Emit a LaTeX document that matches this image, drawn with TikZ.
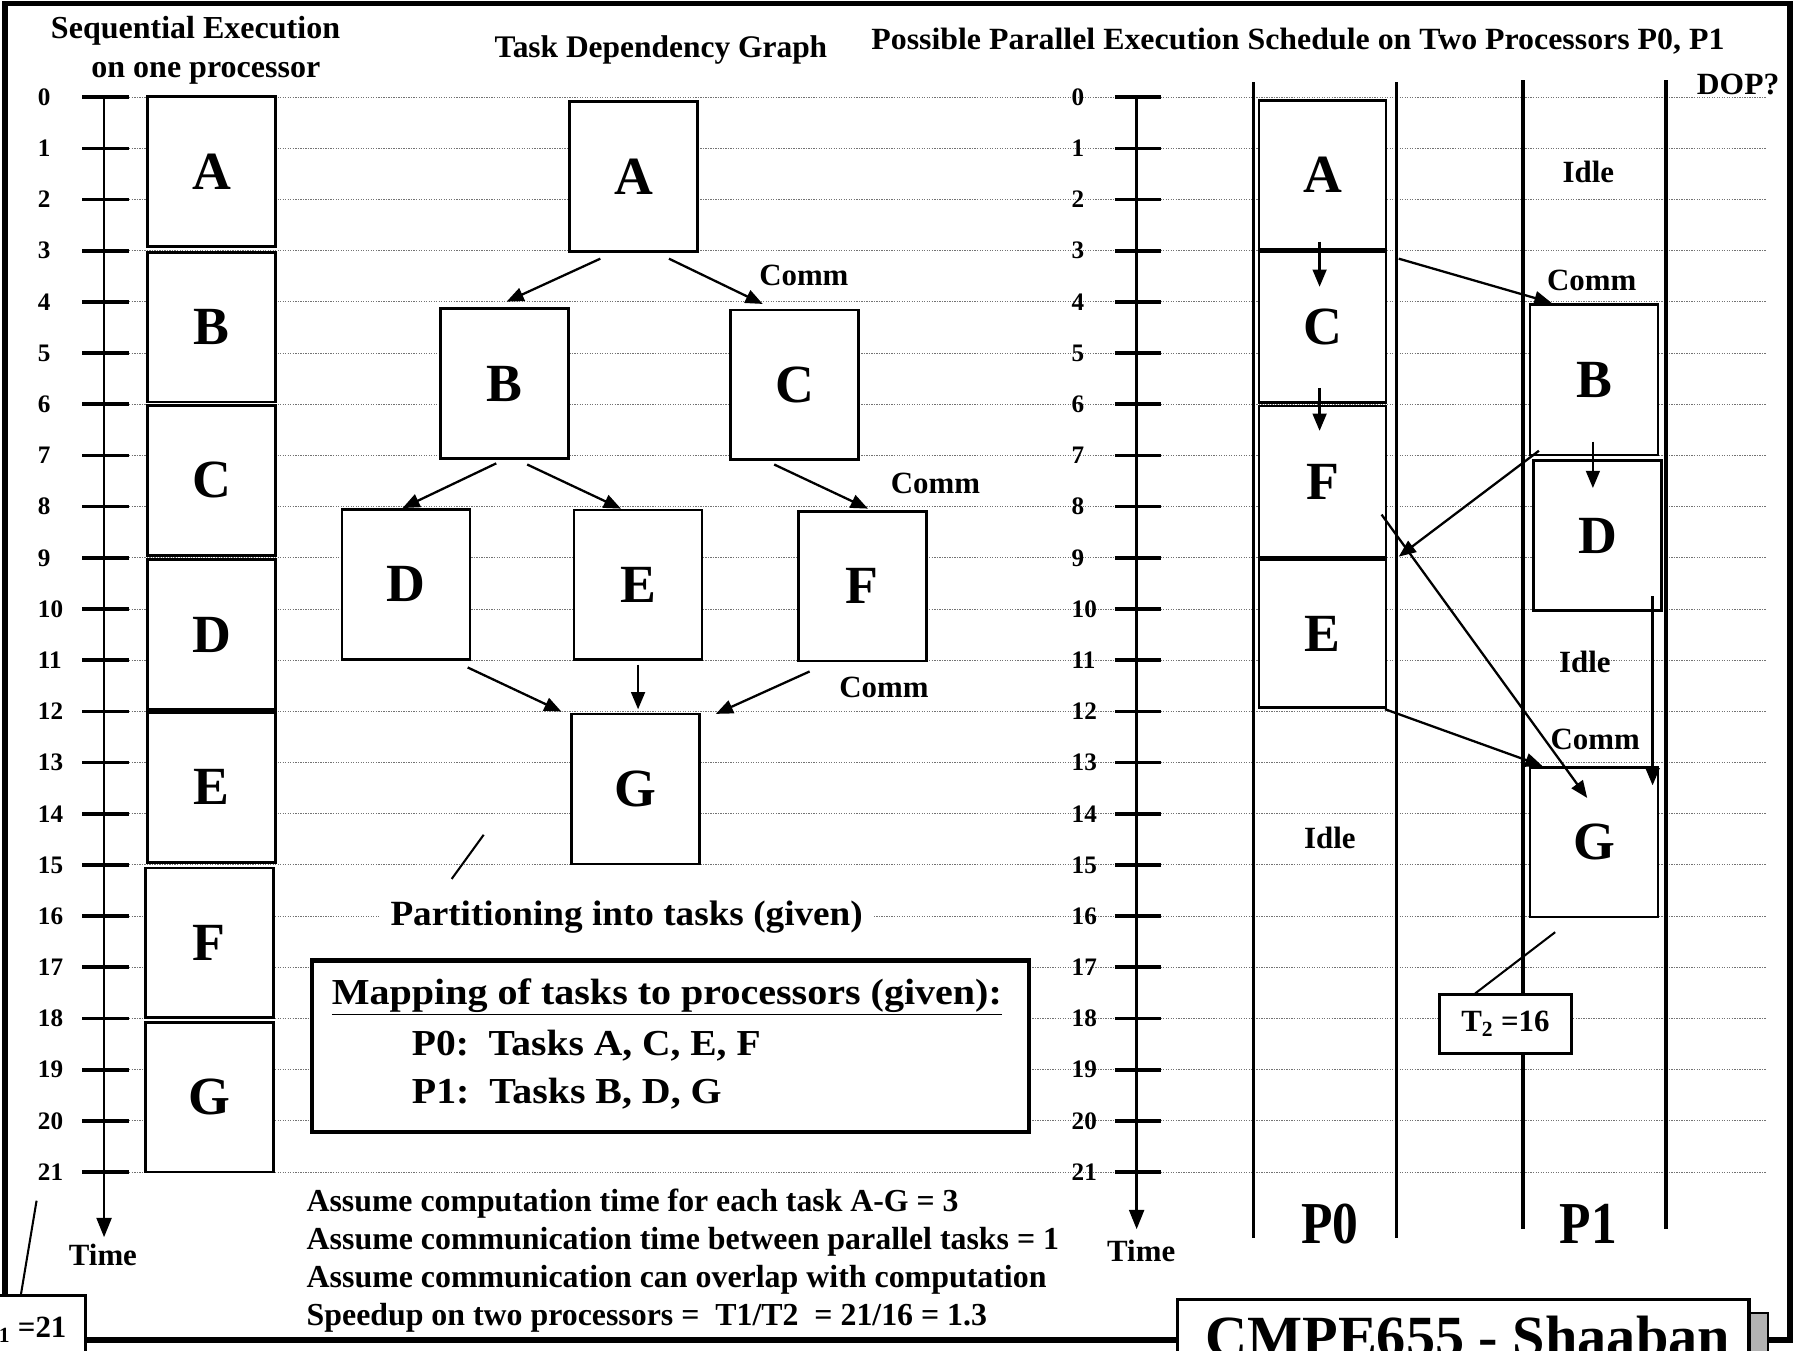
\documentclass[tikz,border=0pt]{standalone}
\usepackage{fontspec}
\setmainfont{Liberation Serif}
\usepackage{graphicx}
\usetikzlibrary{arrows.meta}
\newcommand\fsz[1]{\fontsize{#1}{#1}\selectfont\bfseries}
\newcommand\fw[2]{\resizebox{#1pt}{\height}{#2}}
\begin{document}
\begin{tikzpicture}[x=1pt,y=-1pt,
  taskbox/.style={draw, line width=2.4pt, fill=white, minimum width=112pt, minimum height=131pt, inner sep=0pt, font=\fsz{47}},
  lbl/.style={font=\fsz{27}, inner sep=0pt},
  num/.style={font=\fsz{22}, anchor=west, inner sep=0pt},
  tickln/.style={line width=3.2pt},
  axisln/.style={line width=2.4pt, -{Triangle[length=17pt,width=13pt]}},
  arr/.style={line width=2pt, -{Triangle[length=15pt,width=12pt]}},
  colln/.style={line width=3pt},
  gridln/.style={line width=0.9pt, black!55, dash pattern=on 1.1pt off 1.1pt},
  txt/.style={font=\fsz{28}, anchor=west, inner sep=0pt},
]
\fill[white] (0,0) rectangle (1568,1181);
\useasboundingbox (0,0) rectangle (1568,1181);
\clip (0,0) rectangle (1568,1181);

% grid, ticks, numbers
\foreach \t in {0,...,21}{
  \pgfmathsetmacro\yy{85+\t*44.76}
  \draw[gridln] (113,\yy) -- (1545,\yy);
  \draw[tickln] (72,\yy) -- (113,\yy);
  \draw[tickln] (975,\yy) -- (1015,\yy);
  \node[num] (nl\t) at (33,\yy) {\t};
  \node[num] (nr\t) at (937,\yy) {\t};
}
\coordinate (la0) at (91,85);  \coordinate (la1) at (91,1082);
\coordinate (ra0) at (994,85); \coordinate (ra1) at (994,1075);
\draw[axisln] (la0) -- (la1);
\draw[axisln] (ra0) -- (ra1);
\node[lbl] (timeL) at (90,1097) {Time};
\node[lbl] (timeR) at (998,1094) {Time};

% titles
\node[lbl, font=\fsz{28}, anchor=base] (t1) at (171,34) {Sequential Execution};
\node[lbl, font=\fsz{28}, anchor=base] (t2) at (180,68) {on one processor};
\node[lbl, font=\fsz{27.5}, anchor=base] (t3) at (578,50) {Task Dependency Graph};
\node[lbl, anchor=base] (t4) at (1135,43) {\fw{746}{Possible Parallel Execution Schedule on Two Processors P0, P1}};
\node[lbl] (dop) at (1520,74) {\fw{72}{DOP?}};

% sequential boxes
\node[taskbox] (sA) at (185,150) {A};
\node[taskbox] (sB) at (185,286) {B};
\node[taskbox] (sC) at (185,420) {C};
\node[taskbox] (sD) at (185,555) {D};
\node[taskbox] (sE) at (185,688.5) {E};
\node[taskbox] (sF) at (183,824.5) {F};
\node[taskbox] (sG) at (183,959.5) {G};

% dependency graph
\node[taskbox] (gA) at (554,154.5) {A};
\node[taskbox] (gB) at (441,335.5) {B};
\node[taskbox] (gC) at (695,336.5) {C};
\node[taskbox] (gD) at (355,511) {D};
\node[taskbox] (gE) at (558,511.5) {E};
\node[taskbox] (gF) at (754,512.5) {F};
\node[taskbox] (gG) at (556,690) {G};
\draw[arr] ([xshift=-29pt,yshift=-5pt]gA.south) -- ([xshift=2pt,yshift=5pt]gB.north);
\draw[arr] ([xshift=31pt,yshift=-5pt]gA.south) -- ([xshift=-28pt,yshift=4pt]gC.north);
\draw[arr] ([xshift=-7pt,yshift=-3pt]gB.south) -- ([xshift=-3pt,yshift=0pt]gD.north);
\draw[arr] ([xshift=20pt,yshift=-4pt]gB.south) -- ([xshift=-15pt,yshift=0pt]gE.north);
\draw[arr] ([xshift=-18pt,yshift=-3pt]gC.south) -- ([xshift=5pt,yshift=1pt]gF.north);
\draw[arr] ([xshift=54pt,yshift=-6pt]gD.south) -- ([xshift=-65pt,yshift=1pt]gG.north);
\draw[arr] ([yshift=-3pt]gE.south) -- ([xshift=2pt,yshift=3pt]gG.north);
\draw[arr] ([xshift=-46pt,yshift=-8pt]gF.south) -- ([xshift=70pt,yshift=-1pt]gG.north);
\node[lbl] (c1) at (703,241) {Comm};
\node[lbl] (c2) at (818,423) {Comm};
\node[lbl] (c3) at (773,601) {Comm};

\node[lbl, font=\fsz{31}, fill=white, inner xsep=10pt, inner ysep=4pt] (part) at (548,802) {\fw{413}{Partitioning into tasks (given)}};
\coordinate (pl0) at (423,730);
\draw[line width=1.8pt] (pl0) -- ([xshift=-153pt,yshift=15pt]part.north);

% mapping box
\node[draw, line width=4pt, fill=white, minimum width=627pt, minimum height=150pt, inner sep=0pt] (map) at (586.5,915) {};
\node[txt, font=\fsz{32}] (m1) at (290,872) {\fw{586}{\underline{Mapping of tasks to processors (given):}}};
\node[txt, font=\fsz{32}] (m2) at (360,914) {\fw{305}{P0:\ \ Tasks A, C, E, F}};
\node[txt, font=\fsz{32}] (m3) at (360,956) {\fw{271}{P1:\ \ Tasks B, D, G}};

% assumptions
\node[txt] (a1) at (268,1053) {\fw{570}{Assume computation time for each task A-G = 3}};
\node[txt] (a2) at (268,1086) {\fw{658}{Assume communication time between parallel tasks = 1}};
\node[txt] (a3) at (268,1119) {\fw{647}{Assume communication can overlap with computation}};
\node[txt] (a4) at (268,1152) {\fw{595}{Speedup on two processors =\ \ T1/T2\ \ = 21/16 = 1.3}};

% processor columns
\draw[colln] (1096,72) -- (1096,1083);
\draw[colln] (1221,72) -- (1221,1083);
\draw[colln] (1332,70) -- (1332,1075);
\draw[colln] (1457,70) -- (1457,1075);
\node[lbl, font=\fsz{52}] (P0) at (1163,1070) {\fw{50}{P0}};
\node[lbl, font=\fsz{52}] (P1) at (1389,1070) {\fw{50}{P1}};

\node[taskbox, minimum width=111pt, minimum height=130pt] (pA) at (1156.5,153) {A};
\node[taskbox, minimum width=111pt, minimum height=132pt] (pC) at (1156.5,286) {C};
\node[taskbox, minimum width=111pt, minimum height=132pt] (pF) at (1156.5,421) {F};
\node[taskbox, minimum width=111pt, minimum height=130pt] (pE) at (1156.5,554) {E};
\node[taskbox, minimum height=132pt] (qB) at (1394,332) {B};
\node[taskbox] (qD) at (1397,468.5) {D};
\node[taskbox] (qG) at (1394,736.5) {G};

\draw[arr] ([xshift=-2.5pt,yshift=8pt]pA.south) -- ([xshift=-2.5pt,yshift=-32pt]pC.north);
\draw[arr] ([xshift=-2.5pt,yshift=14pt]pC.south) -- ([xshift=-2.5pt,yshift=-23pt]pF.north);
\draw[arr] ([xshift=10pt,yshift=-7pt]pA.south east) -- ([xshift=20pt]qB.north west);
\draw[arr] ([xshift=-1pt,yshift=13pt]qB.south) -- ([xshift=-4pt,yshift=-25pt]qD.north);
\draw[arr] ([xshift=9pt,yshift=5pt]qB.south west) -- ([xshift=10pt,yshift=1pt]pE.north east);
\draw[arr] ([xshift=-5pt,yshift=-29pt]pF.east) -- ([xshift=-6pt,yshift=-28pt]qG.north);
\draw[arr] ([xshift=-2pt]pE.south east) -- ([xshift=12pt]qG.north west);
\draw[arr] ([xshift=-9pt,yshift=14pt]qD.south east) -- ([xshift=-6pt,yshift=-17pt]qG.north east);

\node[lbl] (c4) at (1392,245) {Comm};
\node[lbl] (c5) at (1395,647) {Comm};
\node[lbl] (i1) at (1389,150) {Idle};
\node[lbl] (i2) at (1386,579) {Idle};
\node[lbl] (i3) at (1163,733) {Idle};

% T2 box
\node[draw, line width=2.4pt, fill=white, minimum width=115pt, minimum height=51pt, inner sep=0pt, font=\fsz{27}] (T2) at (1316.5,895.5) {T\textsubscript{2} =16};
\draw[line width=1.8pt] ([xshift=-34pt,yshift=-12pt]qG.south) -- ([xshift=-26.5pt]T2.north);

% T1 box
\node[draw, line width=2.4pt, fill=white, minimum width=111pt, minimum height=60pt, inner sep=0pt, font=\fsz{27}] (T1) at (19.5,1163) {T\textsubscript{1} =21};
\coordinate (tl0) at (32,1050);
\draw[line width=1.8pt] (tl0) -- ([xshift=-1.5pt,yshift=-2pt]T1.north);

% frame
\draw[line width=5pt] (4.5,1133) -- (4.5,3) -- (1565.5,3) -- (1565.5,1172) -- (1546,1172);
\draw[line width=5pt] (75,1172) -- (1028,1172);

% CMPE box
\fill[gray!60] (1530,1148) rectangle (1546,1200);
\draw[line width=1.5pt] (1530,1148) -- (1546,1148) -- (1546,1200);
\node[draw, line width=3pt, fill=white, minimum width=500pt, minimum height=80pt, anchor=north west, inner sep=0pt] (cmpe) at (1028,1135) {};
\node[font=\fsz{51}, anchor=base, inner sep=0pt] (cmpet) at (1283.5,1186) {CMPE655 - Shaaban};
\end{tikzpicture}
\end{document}
